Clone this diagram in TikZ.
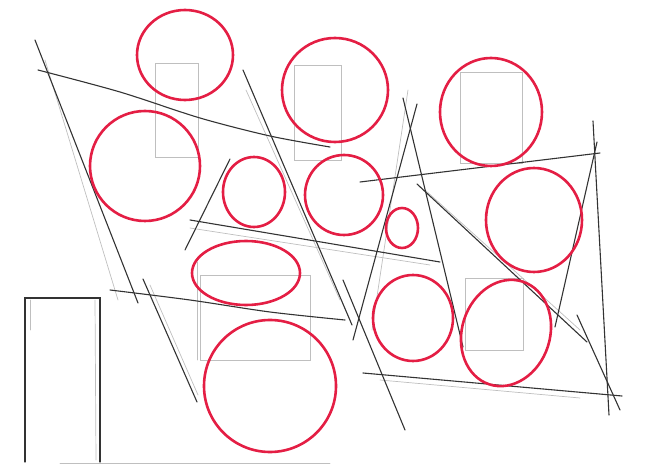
\documentclass[tikz,border=0pt]{standalone}
\definecolor{pen}{RGB}{228,30,68}
\begin{document}
\begin{tikzpicture}[x=1pt,y=-1pt,
	ring/.style={draw=pen,line width=2.6pt},
	pencil/.style={draw=black!80,line width=1.1pt,line cap=round},
	guide/.style={draw=black!25,line width=0.7pt,line cap=round}]
\useasboundingbox (0,0) rectangle (654,465);
% faint guide boxes
\foreach \xa/\ya/\xb/\yb in {155/63/198/157, 294/65/341/160, 460/72/522/163, 200/275/310/360, 465/278/523/350}
{
	\draw[guide] (\xa,\ya) rectangle (\xb,\yb);
}
\draw[guide] (197,262) -- (197,360);
% faint guide strokes
\foreach \xa/\ya/\xb/\yb in {45/60/118/300, 408/90/372/330, 425/190/580/330, 380/380/580/398, 150/285/198/395, 246/90/340/300, 190/228/430/265}
{
	\draw[guide] (\xa,\ya) -- (\xb,\yb);
}
% pencil strokes
\draw[pencil] plot[smooth] coordinates {(38,70) (120,92) (200,118) (270,136) (330,147)};
\draw[pencil] plot[smooth] coordinates {(110,290) (190,300) (270,312) (345,320)};
\foreach \xa/\ya/\xb/\yb in {35/40/138/303, 243/70/352/325, 403/98/463/347, 417/104/353/340, 360/182/600/153, 593/121/609/415, 597/142/555/327, 417/184/587/342, 577/315/620/410, 363/373/622/396, 343/280/405/430, 190/220/440/262, 230/159/185/250, 143/279/197/402}
{
	\draw[pencil] (\xa,\ya) -- (\xb,\yb);
}
% red rings
\foreach \cx/\cy/\rx/\ry in {185/55/48/45, 145/166/55/55, 254/192/31/35, 335/90/53/52, 491/112/51/54, 344/195/39/40, 402/228/16/20, 534/220/48/52, 246/273/54/32, 270/386/66/66, 413/318/40/43}
{
	\draw[ring] (\cx,\cy) ellipse [x radius=\rx pt, y radius=\ry pt];
}
\draw[ring,rotate around={-18:(506,333)}] (506,333) ellipse [x radius=44pt, y radius=54pt];
% door
\draw[pencil] (25,462) -- (25,298) -- (100,298) -- (100,462);
\draw[guide] (30,300) -- (30,330);
\draw[guide] (95,300) -- (96,460);
\draw[guide] (60,463) -- (330,463);
\end{tikzpicture}
\end{document}
